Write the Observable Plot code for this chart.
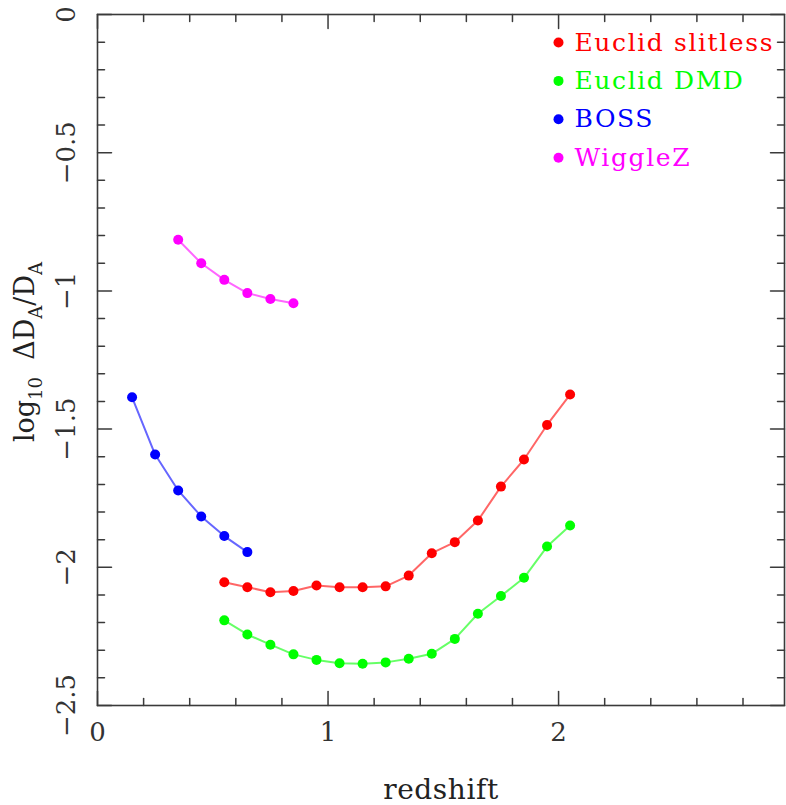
<!DOCTYPE html>
<html><head><meta charset="utf-8">
<script src="https://cdn.jsdelivr.net/npm/d3@7"></script>
<script src="https://cdn.jsdelivr.net/npm/@observablehq/plot@0.6"></script>
<style>body{margin:0;background:#fff;overflow:hidden}</style>
</head><body><div id="chart"></div>
<script>
const seriesNames = ["Euclid slitless", "Euclid DMD", "BOSS", "WiggleZ"];
const seriesColors = ["#ff0000", "#00ff00", "#0000ff", "#ff00ff"];

const euclidZ = [0.55, 0.65, 0.75, 0.85, 0.95, 1.05, 1.15, 1.25, 1.35, 1.45, 1.55, 1.65, 1.75, 1.85, 1.95, 2.05];
const euclidSlitless = [-2.054, -2.072, -2.090, -2.086, -2.066, -2.072, -2.072, -2.069, -2.030, -1.949, -1.909, -1.831, -1.708, -1.610, -1.485, -1.375];
const euclidDMD = [-2.192, -2.243, -2.280, -2.315, -2.335, -2.347, -2.349, -2.344, -2.331, -2.313, -2.259, -2.168, -2.104, -2.038, -1.925, -1.849];
const bossZ = [0.15, 0.25, 0.35, 0.45, 0.55, 0.65];
const boss = [-1.385, -1.592, -1.722, -1.816, -1.887, -1.945];
const wigglezZ = [0.35, 0.45, 0.55, 0.65, 0.75, 0.85];
const wigglez = [-0.815, -0.900, -0.960, -1.008, -1.029, -1.045];

const xMajorTicks = [0, 1, 2];
const xMinorTicks = [0.2, 0.4, 0.6, 0.8, 1.2, 1.4, 1.6, 1.8, 2.2, 2.4, 2.6, 2.8];
const xTickLabels = ["0", "1", "2"];
const yMajorTicks = [0, -0.5, -1, -1.5, -2, -2.5];
const yMinorTicks = [-0.1, -0.2, -0.3, -0.4, -0.6, -0.7, -0.8, -0.9, -1.1, -1.2, -1.3, -1.4, -1.6, -1.7, -1.8, -1.9, -2.1, -2.2, -2.3, -2.4];
const yTickLabels = ["0", "\u22120.5", "\u22121", "\u22121.5", "\u22122", "\u22122.5"];
const xTitle = "redshift";

const rows = (zs, vs) => zs.map((z, i) => ({z, v: vs[i]}));
const seriesData = [rows(euclidZ, euclidSlitless), rows(euclidZ, euclidDMD), rows(bossZ, boss), rows(wigglezZ, wigglez)];

const FONT = "DejaVu Serif";
const AX = "#3a3a3a";
const tickShape = {draw(ctx, l) { ctx.moveTo(0, 0); ctx.lineTo(0, -l); }};
const ticks = (data, ch, anchor, rotate, len) => Plot.vector(data, {
  [ch]: d => d, frameAnchor: anchor, rotate, length: len, anchor: "start",
  shape: tickShape, stroke: AX, strokeWidth: 1.5
});

const marks = [];
for (const [anchor, rot] of [["bottom", 0], ["top", 180]]) {
  marks.push(ticks(xMinorTicks, "x", anchor, rot, 7), ticks(xMajorTicks, "x", anchor, rot, 14));
}
for (const [anchor, rot] of [["left", 90], ["right", -90]]) {
  marks.push(ticks(yMinorTicks, "y", anchor, rot, 7), ticks(yMajorTicks, "y", anchor, rot, 14));
}
marks.push(Plot.frame({stroke: AX, strokeWidth: 1.6}));
marks.push(Plot.text(xMajorTicks, {x: d => d, frameAnchor: "bottom", dy: 27, text: (d, i) => xTickLabels[i],
  lineAnchor: "middle", fontSize: 26, fill: "#333"}));
marks.push(Plot.text(yMajorTicks, {y: d => d, frameAnchor: "left", dx: -30.5, rotate: -90, text: (d, i) => yTickLabels[i],
  textAnchor: "middle", lineAnchor: "middle", fontSize: 26, fill: "#333"}));
marks.push(Plot.text([xTitle], {frameAnchor: "bottom", dy: 93, text: d => d, lineAnchor: "bottom", fontSize: 28, fill: "#222"}));

seriesData.forEach((data, k) => {
  marks.push(Plot.line(data, {x: "z", y: "v", stroke: seriesColors[k], strokeWidth: 2, strokeOpacity: 0.6}));
  marks.push(Plot.dot(data, {x: "z", y: "v", r: 5, fill: seriesColors[k], stroke: "none"}));
});

seriesNames.forEach((name, k) => {
  const dy = 28 + k * 38.4;
  marks.push(Plot.dot([name], {frameAnchor: "top-left", dx: 461, dy, r: 5, fill: seriesColors[k], stroke: "none"}));
  marks.push(Plot.text([name], {frameAnchor: "top-left", dx: 477, dy, text: d => d, textAnchor: "start",
    lineAnchor: "middle", fontSize: 25, fill: seriesColors[k]}));
});

const chart = Plot.plot({
  width: 786, height: 805,
  marginLeft: 97, marginRight: 2, marginTop: 14, marginBottom: 100,
  style: {fontFamily: FONT, background: "#fff"},
  x: {domain: [0, 2.98], axis: null},
  y: {domain: [-2.5, 0], axis: null},
  marks
});
document.getElementById("chart").appendChild(chart);

d3.select(chart).selectAll("text")
  .filter(function() { return seriesNames.includes(this.textContent); })
  .style("letter-spacing", "1.6px");
d3.select(chart).selectAll("text")
  .filter(function() { return this.textContent === xTitle; })
  .style("letter-spacing", "0.6px");

const t = d3.select(chart).append("text")
  .attr("transform", "translate(34,352) rotate(-90)")
  .attr("text-anchor", "middle").attr("font-family", FONT).attr("font-size", 27)
  .attr("fill", "#222").style("white-space", "pre");
t.append("tspan").text("log");
t.append("tspan").attr("dy", 8).attr("font-size", 18).text("10");
t.append("tspan").attr("dy", -8).text("  \u0394D");
t.append("tspan").attr("dy", 8).attr("font-size", 18).text("A");
t.append("tspan").attr("dy", -8).text("/D");
t.append("tspan").attr("dy", 8).attr("font-size", 18).text("A");
</script>
</body></html>
